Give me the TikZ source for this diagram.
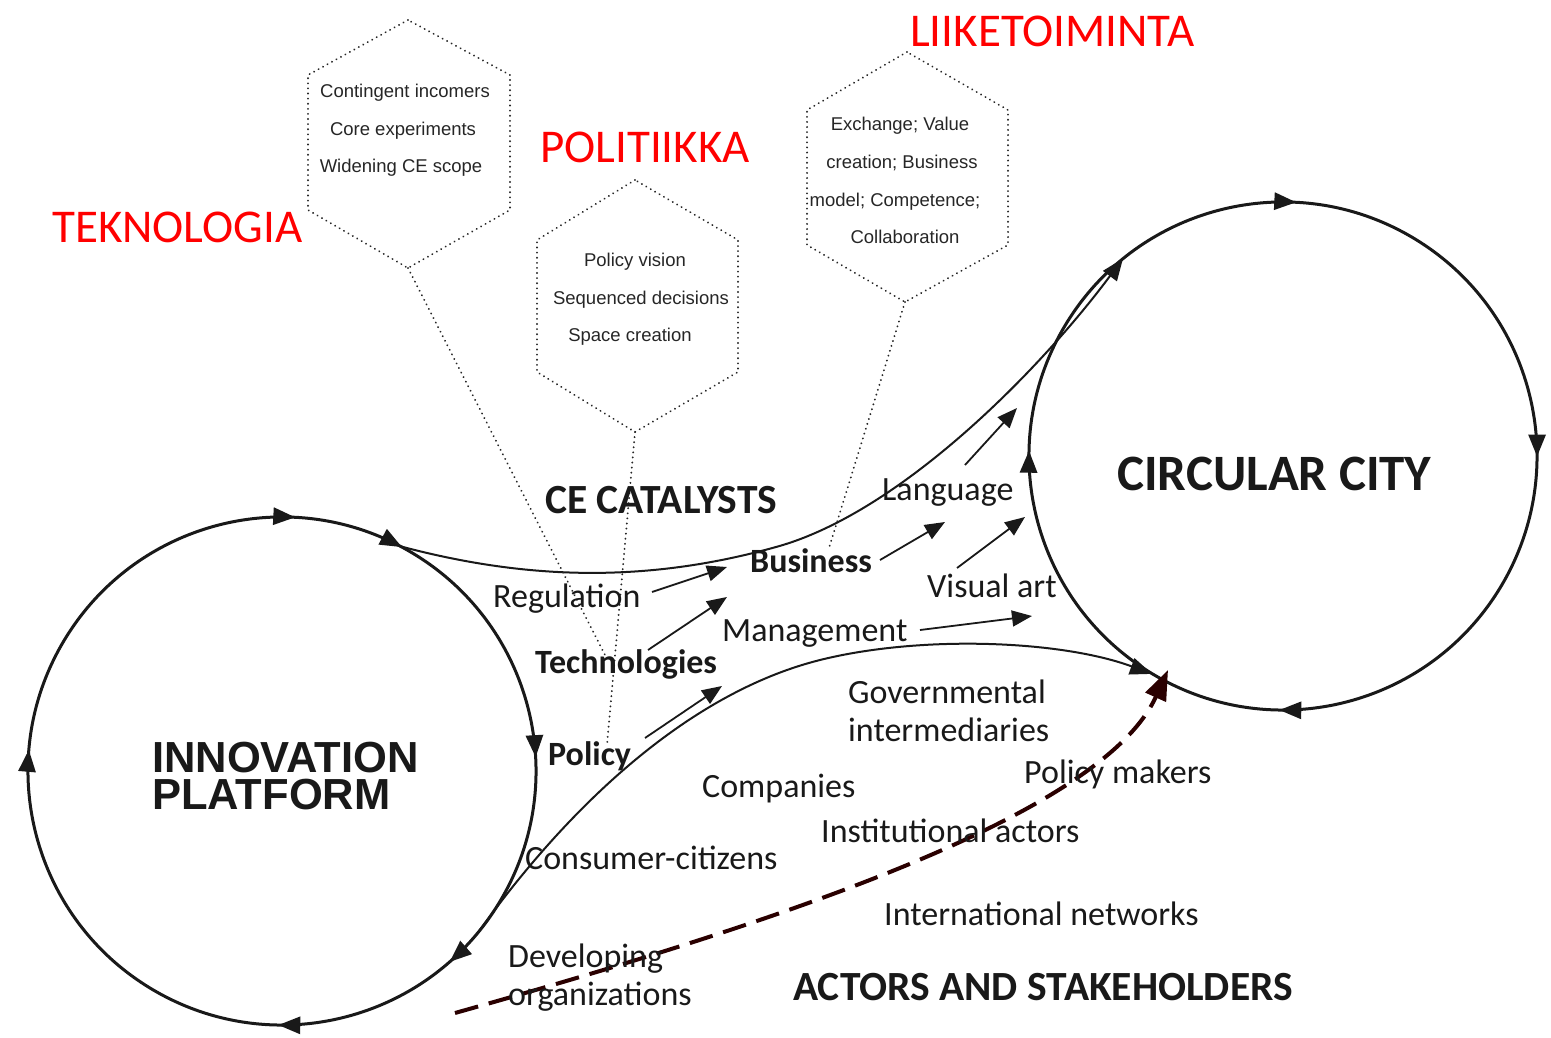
\documentclass[tikz,border=0pt]{standalone}
\usepackage{fontspec}
\setmainfont{Carlito}
\newfontfamily\hexfont{Liberation Sans}
\newfontfamily\ipfont{Liberation Sans}
\usetikzlibrary{arrows.meta,decorations.markings}
\definecolor{dred}{RGB}{42,0,0}
\begin{document}
\begin{tikzpicture}[x=1pt,y=-1pt]
\tikzset{
  tip/.tip={Triangle[length=22pt,width=17pt]},
  circline/.style={line width=3pt, draw=black!90},
  curveline/.style={line width=2pt, draw=black!90},
  sarrow/.style={line width=1.8pt, draw=black!90, -{Triangle[length=20pt,width=16pt]}},
  dotline/.style={draw=black!85, line width=2pt, dash pattern=on 0.1pt off 5pt, line cap=round},
  lbl/.style={anchor=base west, inner sep=0pt, text=black!90, font=\fontsize{34}{40}\selectfont},
  blbl/.style={lbl, font=\fontsize{34}{40}\selectfont\bfseries},
  head/.style={anchor=base west, inner sep=0pt, text=black!90, font=\fontsize{41.5}{48}\selectfont\bfseries},
  fi/.style={anchor=base west, inner sep=0pt, text=red, font=\fontsize{47}{54}\selectfont},
  hext/.style={anchor=base, inner sep=0pt, text=black!85, font=\hexfont\fontsize{18.5}{22}\selectfont},
  iptext/.style={anchor=north west, align=left, inner sep=0pt, text=black!90, font=\ipfont\bfseries\fontsize{43.5}{37}\selectfont},
  bigcirc/.style={circle, minimum size=508pt, inner sep=0pt, draw=none}
}
\useasboundingbox (0,0) rectangle (1551,1038);

% ---------- circles ----------
\node[bigcirc] (ip) at (282,771) {};
\node[bigcirc] (cc) at (1283,456) {};

\draw[circline, postaction={decorate}, decoration={markings,
   mark=at position 0.052 with {\arrow{tip}},
   mark=at position 0.169 with {\arrow{tip}},
   mark=at position 0.43 with {\arrow{tip}},
   mark=at position 0.675 with {\arrow{tip}},
   mark=at position 0.745 with {\arrow{tip}},
   mark=at position 0.908 with {\arrow{tip}}}]
  (ip.center) ++(30:254) arc[start angle=30, end angle=390, radius=254];

\draw[circline, postaction={decorate}, decoration={markings,
   mark=at position 0.169 with {\arrow{tip}},
   mark=at position 0.42 with {\arrow{tip}},
   mark=at position 0.675 with {\arrow{tip}},
   mark=at position 0.917 with {\arrow{tip}}}]
  (cc.center) ++(30:254) arc[start angle=30, end angle=390, radius=254];

\node[iptext] (ipt) at (152,742) {INNOVATION\\PLATFORM};
\node[anchor=base west, inner sep=0pt, text=black!90, font=\fontsize{51}{60}\selectfont\bfseries] (cct) at (1117,490) {CIRCULAR CITY};

% ---------- main curves ----------
\draw[curveline, -{tip}] (ip.62.5) .. controls (520,578) and (640,585) .. (776,547)
   .. controls (900,513) and (1040,370) .. (cc.129.8);
\draw[curveline, -{tip}] (ip.-40) .. controls (580,790) and (700,690) .. (820,660)
   .. controls (920,635) and (1060,640) .. (cc.239.5);

\coordinate (dstart) at (455,1013);
\coordinate (dend) at (1168,670);
\draw[line width=4pt, draw=dred, dash pattern=on 24pt off 11pt,
   -{Triangle[length=30pt,width=22pt]}]
   (dstart) .. controls (750,930) and (1100,820) .. (dend);

% ---------- hexagons ----------
\coordinate (h1t) at (408,20);  \coordinate (h1b) at (408,268);
\draw[dotline] (h1t) -- (308,75) -- (308,210) -- (h1b) -- (510,210) -- (510,75) -- cycle;
\coordinate (h2t) at (635,180); \coordinate (h2b) at (635,432);
\draw[dotline] (h2t) -- (537,240) -- (537,372) -- (h2b) -- (738,372) -- (738,240) -- cycle;
\coordinate (h3t) at (907,52);  \coordinate (h3b) at (905,302);
\draw[dotline] (h3t) -- (807,110) -- (807,245) -- (h3b) -- (1008,245) -- (1008,110) -- cycle;

\coordinate (h1e) at (605,655);
\coordinate (h2e) at (607,745);
\coordinate (h3e) at (829,548);
\draw[dotline] (h1b) -- (h1e);
\draw[dotline] (h2b) -- (h2e);
\draw[dotline] (h3b) -- (h3e);

\node[hext] (a1) at (405,98) {Contingent incomers};
\node[hext] (a2) at (403,136) {Core experiments};
\node[hext] (a3) at (401,173) {Widening CE scope};
\node[hext] (b1) at (635,266) {Policy vision};
\node[hext] (b2) at (641,304) {Sequenced decisions};
\node[hext] (b3) at (630,341) {Space creation};
\node[hext] (c1) at (900,131) {Exchange; Value};
\node[hext] (c2) at (902,168) {creation; Business};
\node[hext] (c3) at (895,206) {model; Competence;};
\node[hext] (c4) at (905,243) {Collaboration};

% ---------- red labels ----------
\node[fi] (tek) at (52,242) {TEKNOLOGIA};
\node[fi] (pol) at (540,163) {POLITIIKKA};
\node[fi] (lii) at (910,47) {LIIKETOIMINTA};

% ---------- labels ----------
\node[head] (cecat) at (545,513) {CE CATALYSTS};
\node[head] (actors) at (793,1000) {ACTORS AND STAKEHOLDERS};
\node[lbl] (lang) at (882,500) {Language};
\node[blbl] (bus) at (750,572) {Business};
\node[lbl] (reg) at (493,607) {Regulation};
\node[lbl] (vis) at (927,597) {Visual art};
\node[lbl] (man) at (722,641) {Management};
\node[blbl] (tech) at (535,673) {Technologies};
\node[blbl] (polc) at (548,765) {Policy};
\node[lbl] (gov1) at (848,703) {Governmental};
\node[lbl] (gov2) at (848,741) {intermediaries};
\node[lbl] (comp) at (702,797) {Companies};
\node[lbl] (pm) at (1024,783) {Policy makers};
\node[lbl] (inst) at (821,842) {Institutional actors};
\node[lbl] (cons) at (525,869) {Consumer-citizens};
\node[lbl] (intl) at (884,925) {International networks};
\node[lbl] (dev1) at (508,967) {Developing};
\node[lbl] (dev2) at (508,1005) {organizations};

% ---------- small arrows ----------
\coordinate (r0) at (652,592);  \coordinate (r1) at (727,567);
\coordinate (t0) at (648,650);  \coordinate (t1) at (727,597);
\coordinate (p0) at (645,738);  \coordinate (p1) at (722,686);
\coordinate (b0) at (880,560);  \coordinate (b1) at (945,522);
\coordinate (l0) at (965,465);  \coordinate (l1) at (1017,408);
\coordinate (v0) at (957,568);  \coordinate (v1) at (1025,517);
\coordinate (m0) at (920,630);  \coordinate (m1) at (1032,616);
\draw[sarrow] (r0) -- (r1);
\draw[sarrow] (t0) -- (t1);
\draw[sarrow] (p0) -- (p1);
\draw[sarrow] (b0) -- (b1);
\draw[sarrow] (l0) -- (l1);
\draw[sarrow] (v0) -- (v1);
\draw[sarrow] (m0) -- (m1);
\end{tikzpicture}
\end{document}
